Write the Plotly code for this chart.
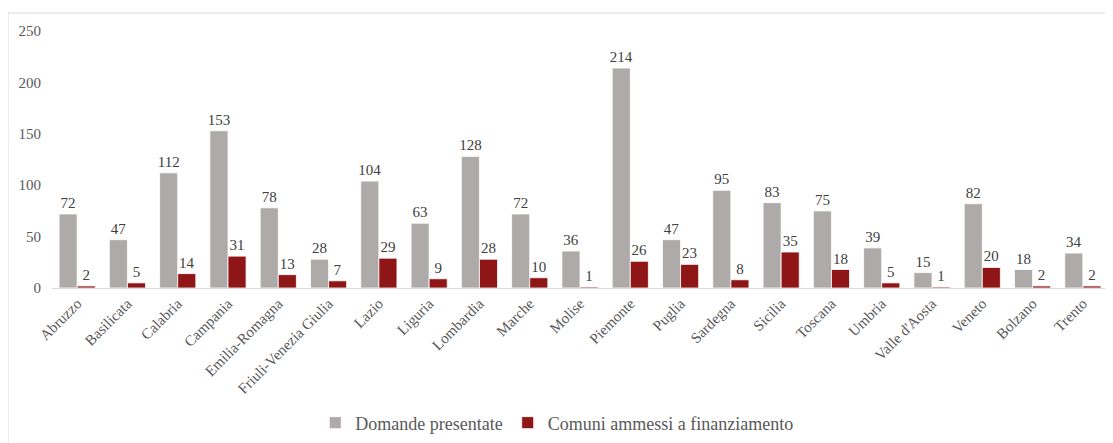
import plotly.graph_objects as go

regioni = ["Abruzzo", "Basilicata", "Calabria", "Campania", "Emilia-Romagna",
           "Friuli-Venezia Giulia", "Lazio", "Liguria", "Lombardia", "Marche",
           "Molise", "Piemonte", "Puglia", "Sardegna", "Sicilia", "Toscana",
           "Umbria", "Valle d'Aosta", "Veneto", "Bolzano", "Trento"]
domande = [72, 47, 112, 153, 78, 28, 104, 63, 128, 72, 36, 214, 47, 95, 83, 75, 39, 15, 82, 18, 34]
ammessi = [2, 5, 14, 31, 13, 7, 29, 9, 28, 10, 1, 26, 23, 8, 35, 18, 5, 1, 20, 2, 2]

FONT = "'Liberation Serif', 'Times New Roman', serif"

fig = go.Figure()
fig.add_trace(go.Bar(
    x=regioni, y=domande, name="Domande presentate",
    marker=dict(color="#AEAAAA", line=dict(color="white", width=0.8)),
    text=domande, textposition="outside", cliponaxis=False, constraintext="none",
    textfont=dict(family=FONT, size=15, color="#404040"),
))
fig.add_trace(go.Bar(
    x=regioni, y=ammessi, name="Comuni ammessi a finanziamento",
    marker=dict(color="#8E1616", line=dict(color="white", width=0.8)),
    text=ammessi, textposition="outside", cliponaxis=False, constraintext="none",
    textfont=dict(family=FONT, size=15, color="#404040"),
))

fig.update_layout(
    width=1105, height=435,
    margin=dict(l=44, r=5, t=23, b=155, autoexpand=False),
    paper_bgcolor="white", plot_bgcolor="white",
    barmode="group", bargap=0.28, bargroupgap=0,
    font=dict(family=FONT, color="#595959", size=15),
    showlegend=True,
    legend=dict(orientation="h", x=0.478, xanchor="center", y=-0.525, yanchor="middle",
                font=dict(family=FONT, size=18, color="#595959"),
                itemwidth=30, traceorder="normal"),
    xaxis=dict(tickangle=-45, showgrid=False, showline=True, linecolor="#D9D9D9",
               linewidth=1, ticks="", automargin=False,
               tickfont=dict(family=FONT, size=15, color="#595959")),
    yaxis=dict(range=[0, 250], dtick=50, showgrid=False, zeroline=False, showline=False,
               ticks="", ticklabelstandoff=10, automargin=False,
               tickfont=dict(family=FONT, size=15, color="#595959")),
    shapes=[dict(type="rect", xref="paper", yref="paper",
                 x0=-44/1056, x1=1110/1056, y0=-170/257, y1=1 + 18/257,
                 line=dict(color="#D9D9D9", width=1), fillcolor="rgba(0,0,0,0)", layer="below")],
)

fig.write_html("out.html")
